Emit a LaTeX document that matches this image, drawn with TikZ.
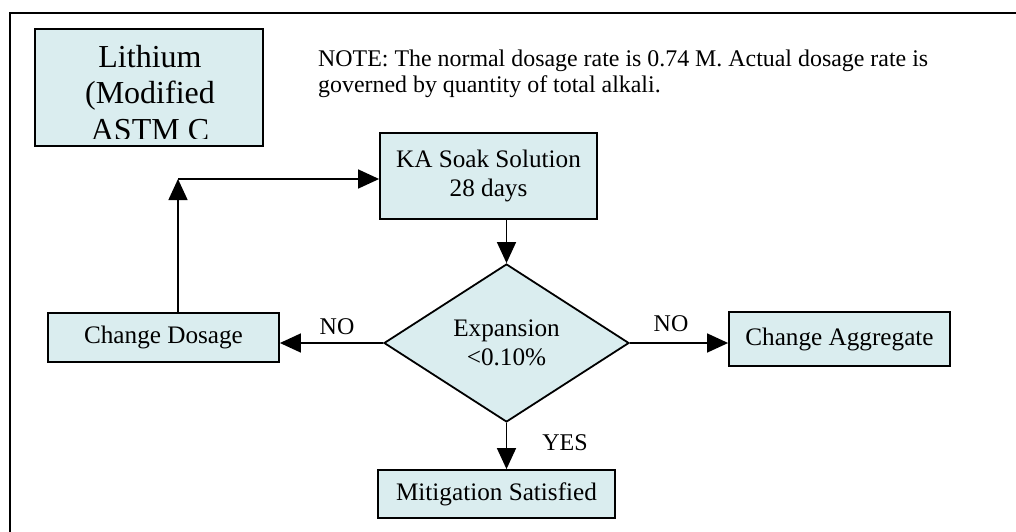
\documentclass[tikz,border=0pt]{standalone}
\usepackage{fontspec}
\setmainfont{Liberation Serif}
\usetikzlibrary{arrows.meta,shapes.geometric}
\definecolor{boxfill}{RGB}{218,237,239}
\begin{document}
\begin{tikzpicture}[x=1pt,y=-1pt,
  box/.style={draw, line width=1.8pt, fill=boxfill, inner sep=0pt, align=center,
    font=\fontsize{25.2}{29}\selectfont},
  arr/.style={line width=1.5pt, -{Triangle[length=21pt,width=19pt]}},
  lbl/.style={font=\fontsize{24}{28}\selectfont},
  notetxt/.style={anchor=base west, inner sep=0pt, font=\fontsize{23.9}{27}\selectfont},
  lithtxt/.style={anchor=base, inner sep=0pt, font=\fontsize{32}{36}\selectfont}]
\useasboundingbox (0,0) rectangle (1016,532);
% frame
\draw[line width=2pt] (10,532) -- (10,13) -- (1016,13);
% title box
\node[box, minimum width=228pt, minimum height=117pt] (lith) at (149,87.5) {};
\begin{scope}
  \clip (36,30) rectangle (262,138);
  \node[lithtxt] (lith1) at (150,68) {Lithium};
  \node[lithtxt] (lith2) at (150,104) {(Modified};
  \node[lithtxt] (lith3) at (150,140) {ASTM C};
\end{scope}
% note
\node[notetxt] (note1) at (318,67) {NOTE: The normal dosage rate is 0.74 M. Actual dosage rate is};
\node[notetxt] (note2) at (318,93) {governed by quantity of total alkali.};
% boxes
\node[box, minimum width=217pt, minimum height=86pt] (ka) at (488.5,176) {KA Soak Solution\\28 days};
\node[box, diamond, aspect=1.55, minimum width=245pt, minimum height=158pt] (dia) at (506.5,343) {Expansion\\{<}0.10\%};
\node[box, minimum width=231pt, minimum height=49pt] (cd) at (163.5,337.5) {Change Dosage};
\node[box, minimum width=221pt, minimum height=54pt] (ca) at (839.5,339) {Change Aggregate};
\node[box, minimum width=237pt, minimum height=48pt] (ms) at (496.5,494) {Mitigation Satisfied};
% connectors
\draw[arr] (ka.south -| dia.north) -- (dia.north);
\draw[arr] (dia.west) -- (dia.west -| cd.east);
\draw[arr] (dia.east) -- (dia.east -| ca.west);
\draw[arr] (dia.south) -- (dia.south |- ms.north);
\coordinate (corner) at (178,179);
\draw[arr] (cd.north -| corner) -- (corner);
\draw[arr] (corner) -- (corner -| ka.west);
% labels
\node[lbl] (lno1) at (337,327) {NO};
\node[lbl] (lno2) at (671,324) {NO};
\node[lbl] (lyes) at (565,443) {YES};
\end{tikzpicture}
\end{document}
